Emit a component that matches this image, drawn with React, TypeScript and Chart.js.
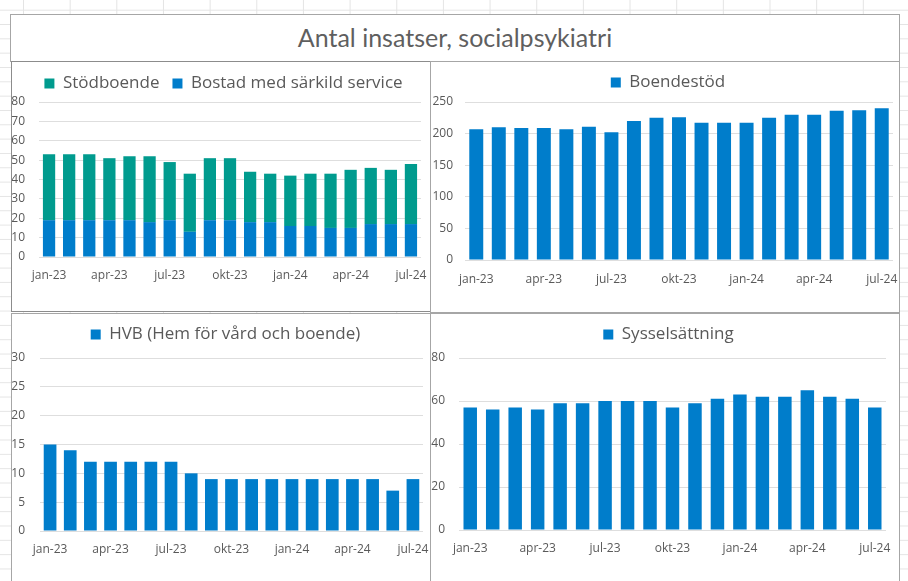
import React, { useEffect, useRef } from "react";
import { Chart, registerables } from "chart.js";

Chart.register(...registerables);

const months = [
  "jan-23", "feb-23", "mar-23", "apr-23", "maj-23", "jun-23", "jul-23", "aug-23", "sep-23", "okt-23",
  "nov-23", "dec-23", "jan-24", "feb-24", "mar-24", "apr-24", "maj-24", "jun-24", "jul-24",
];
const bostadMedSarkildService = [19, 19, 19, 19, 19, 18, 19, 13, 19, 19, 18, 18, 16, 16, 15, 15, 17, 17, 17];
const stodboende = [34, 34, 34, 32, 33, 34, 30, 30, 32, 32, 26, 25, 26, 27, 28, 30, 29, 28, 31];
const boendestod = [207, 210, 209, 209, 207, 211, 202, 220, 225, 226, 217, 217, 217, 225, 230, 230, 236, 237, 240];
const hvb = [15, 14, 12, 12, 12, 12, 12, 10, 9, 9, 9, 9, 9, 9, 9, 9, 9, 7, 9];
const sysselsattning = [57, 56, 57, 56, 59, 59, 60, 60, 60, 57, 59, 61, 63, 62, 62, 65, 62, 61, 57];

const BLUE = "#007DCB";
const TEAL = "#009B8E";
const TEXT = "#595959";
const GRID = "#dedede";
const FONT = "'Open Sans', 'Noto Sans', sans-serif";

type DS = { label: string; data: number[]; color: string };

type Props = {
  w: number;
  h: number;
  datasets: DS[];
  stacked?: boolean;
  yMax: number;
  yStep: number;
  plotLeft: number;
  plotRight: number;
  plotTop: number;
  plotBottom: number;
  legendPad: number;
  legendDx: number;
  yPad: number;
  xPad: number;
  barPct: number;
  reverseLegend?: boolean;
};

function BarPanel(p: Props) {
  const ref = useRef<HTMLCanvasElement | null>(null);
  useEffect(() => {
    if (!ref.current) return;
    const legendFix = {
      id: "legendFix",
      afterInit(chart: any) {
        const lg = chart.legend;
        if (!lg) return;
        const orig = lg.fit;
        lg.fit = function () {
          orig.call(this);
          this.height = p.plotTop;
        };
      },
      afterLayout(chart: any) {
        const lg = chart.legend;
        if (!lg) return;
        lg.left += p.legendDx;
        lg.right += p.legendDx;
      },
    };
    const chart = new Chart(ref.current, {
      type: "bar",
      data: {
        labels: months,
        datasets: p.datasets.map((d) => ({
          label: d.label,
          data: d.data,
          backgroundColor: d.color,
          borderWidth: 0,
          categoryPercentage: 1,
          barPercentage: p.barPct,
        })),
      },
      options: {
        responsive: false,
        animation: false,
        maintainAspectRatio: false,
        layout: { padding: { top: 0, left: 0, bottom: 0, right: p.w - p.plotRight } },
        plugins: {
          tooltip: { enabled: false },
          legend: {
            display: true,
            position: "top",
            reverse: !!p.reverseLegend,
            labels: {
              color: TEXT,
              font: { family: FONT, size: 17 },
              boxWidth: 10,
              boxHeight: 10,
              padding: p.legendPad,
            },
          },
        },
        scales: {
          x: {
            stacked: !!p.stacked,
            grid: { display: false, drawTicks: false },
            border: { display: false },
            ticks: {
              autoSkip: false,
              maxRotation: 0,
              minRotation: 0,
              padding: p.xPad,
              color: TEXT,
              font: { family: FONT, size: 12 },
              callback: (_v: any, i: number) => (i % 3 === 0 ? months[i] : ""),
            },
            afterFit: (s: any) => {
              s.height = p.h - p.plotBottom;
              s.paddingLeft = 0;
              s.paddingRight = 0;
            },
          },
          y: {
            stacked: !!p.stacked,
            min: 0,
            max: p.yMax,
            grid: { color: GRID, lineWidth: 1, drawTicks: false },
            border: { display: false },
            ticks: {
              stepSize: p.yStep,
              padding: p.yPad,
              color: TEXT,
              font: { family: FONT, size: 12 },
            },
            afterFit: (s: any) => {
              s.width = p.plotLeft;
              s.paddingTop = 0;
              s.paddingBottom = 0;
            },
          },
        },
      },
      plugins: [legendFix],
    } as any);
    return () => chart.destroy();
  }, []);
  return <canvas ref={ref} width={p.w} height={p.h} style={{ width: p.w, height: p.h, display: "block" }} />;
}

const boxStyle = (left: number, top: number, width: number, height: number, border: string): React.CSSProperties => ({
  position: "absolute",
  left,
  top,
  width,
  height,
  boxSizing: "border-box",
  border: `1px solid ${border}`,
  background: "#ffffff",
});

export default function App() {
  useEffect(() => {
    document.body.style.margin = "0";
  }, []);
  return (
    <div
      style={{
        position: "fixed",
        left: 0,
        top: 0,
        width: 908,
        height: 581,
        overflow: "hidden",
        backgroundColor: "#ffffff",
        backgroundImage:
          "linear-gradient(to right, #e4e4e4 1px, transparent 1px), linear-gradient(to bottom, #e4e4e4 1px, transparent 1px)",
        backgroundSize: "46.67px 100%, 100% 14.33px",
        backgroundPosition: "23px 0, 0 9.7px",
      }}
    >
      <div
        style={{
          ...boxStyle(10, 14, 890, 48, "#a6a6a6"),
          display: "flex",
          alignItems: "center",
          justifyContent: "center",
          fontFamily: "Lato, sans-serif",
          fontWeight: 400,
          fontSize: 25,
          color: "#5f5f5f",
          paddingBottom: 2,
        }}
      >
        Antal insatser, socialpsykiatri
      </div>

      <div style={boxStyle(11, 61, 420, 251, "#8c8c8c")}>
        <BarPanel
          w={418}
          h={249}
          datasets={[
            { label: "Bostad med särkild service", data: bostadMedSarkildService, color: BLUE },
            { label: "Stödboende", data: stodboende, color: TEAL },
          ]}
          stacked
          reverseLegend
          yMax={80}
          yStep={10}
          plotLeft={27}
          plotRight={409}
          plotTop={40}
          plotBottom={195}
          legendPad={13}
          legendDx={7}
          yPad={14}
          xPad={11}
          barPct={0.61}
        />
      </div>

      <div style={boxStyle(430, 61, 470, 252, "#a6a6a6")}>
        <BarPanel
          w={468}
          h={250}
          datasets={[{ label: "Boendestöd", data: boendestod, color: BLUE }]}
          yMax={250}
          yStep={50}
          plotLeft={34}
          plotRight={462}
          plotTop={40}
          plotBottom={198}
          legendPad={12}
          legendDx={6}
          yPad={12}
          xPad={12}
          barPct={0.62}
        />
      </div>

      <div style={boxStyle(11, 313, 420, 272, "#a6a6a6")}>
        <BarPanel
          w={418}
          h={270}
          datasets={[{ label: "HVB (Hem för vård och boende)", data: hvb, color: BLUE }]}
          yMax={30}
          yStep={5}
          plotLeft={28}
          plotRight={411}
          plotTop={44}
          plotBottom={217}
          legendPad={12}
          legendDx={8}
          yPad={15}
          xPad={11}
          barPct={0.63}
        />
      </div>

      <div style={boxStyle(430, 313, 470, 272, "#a6a6a6")}>
        <BarPanel
          w={468}
          h={270}
          datasets={[{ label: "Sysselsättning", data: sysselsattning, color: BLUE }]}
          yMax={80}
          yStep={20}
          plotLeft={28}
          plotRight={455}
          plotTop={44}
          plotBottom={216}
          legendPad={12}
          legendDx={10}
          yPad={14}
          xPad={11}
          barPct={0.6}
        />
      </div>
    </div>
  );
}
